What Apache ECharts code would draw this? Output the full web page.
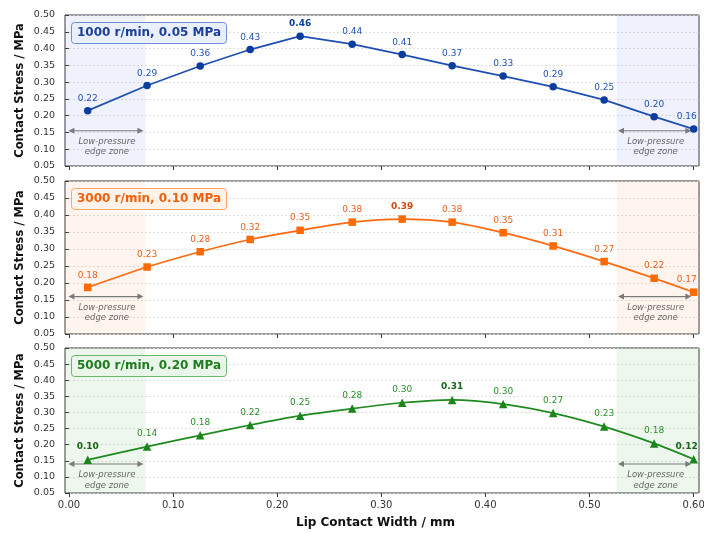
<!DOCTYPE html>
<html><head><meta charset="utf-8">
<script src="https://cdn.jsdelivr.net/npm/echarts@6/dist/echarts.min.js"></script>
<style>html,body{margin:0;padding:0;background:#fff}#c{width:704px;height:533px}</style>
</head><body><div id="c"></div>
<script>
// ---- data ----
const lipWidth = [0.018, 0.075, 0.126, 0.174, 0.222, 0.272, 0.320, 0.368, 0.417, 0.465, 0.514, 0.562, 0.600];
const stress1000 = [0.215, 0.290, 0.348, 0.397, 0.437, 0.413, 0.382, 0.349, 0.318, 0.286, 0.247, 0.197, 0.160];
const labels1000 = [0.22, 0.29, 0.36, 0.43, 0.46, 0.44, 0.41, 0.37, 0.33, 0.29, 0.25, 0.20, 0.16];
const stress3000 = [0.187, 0.247, 0.292, 0.328, 0.355, 0.379, 0.388, 0.379, 0.348, 0.309, 0.263, 0.214, 0.173];
const labels3000 = [0.18, 0.23, 0.28, 0.32, 0.35, 0.38, 0.39, 0.38, 0.35, 0.31, 0.27, 0.22, 0.17];
const stress5000 = [0.153, 0.194, 0.229, 0.261, 0.290, 0.312, 0.330, 0.339, 0.326, 0.298, 0.256, 0.204, 0.155];
const labels5000 = [0.10, 0.14, 0.18, 0.22, 0.25, 0.28, 0.30, 0.31, 0.30, 0.27, 0.23, 0.18, 0.12];
const panelTitles = ['1000 r/min, 0.05 MPa', '3000 r/min, 0.10 MPa', '5000 r/min, 0.20 MPa'];
const xTicks = [0, 0.1, 0.2, 0.3, 0.4, 0.5, 0.6];
const zoneLeftEnd = 0.0736, zoneRightStart = 0.526;

// ---- styling ----
const FONT = 'DejaVu Sans';
const panels = [
  {vals: stress1000, labs: labels1000, bold: [4], sym: 'circle', size: 7.5, smooth: false,
   line: '#1f4fb2', mark: '#0c3d9f', lab: '#2350b5', boldLab: '#0c3d9f', title: '#1a3f9e',
   tfill: '#eaf0fb', tborder: '#6d8fd6', zone: 'rgba(70,110,220,0.085)', arrowY: 0.155},
  {vals: stress3000, labs: labels3000, bold: [6], sym: 'rect', size: 7.5, smooth: 0.25,
   line: '#ff6a10', mark: '#ff6a00', lab: '#e8601c', boldLab: '#d9480f', title: '#f0600c',
   tfill: '#fff2e8', tborder: '#ffa46a', zone: 'rgba(255,130,60,0.085)', arrowY: 0.16},
  {vals: stress5000, labs: labels5000, bold: [0, 7, 12], sym: 'triangle', size: 8.5, smooth: 0.25,
   line: '#1f8a1f', mark: '#1a861a', lab: '#2b8f2b', boldLab: '#17641a', title: '#1e7d1e',
   tfill: '#ebf6eb', tborder: '#6cb56c', zone: 'rgba(60,160,60,0.085)', arrowY: 0.14}
];
const gridPos = [{top: 15, height: 151}, {top: 181, height: 153}, {top: 348, height: 145}];
const XMIN = -0.00384, XMAX = 0.6051;

const grid = [], xAxis = [], yAxis = [], series = [], title = [];
panels.forEach((p, i) => {
  grid.push({left: 65, right: 5, top: gridPos[i].top, height: gridPos[i].height,
    outerBoundsMode: 'none', containLabel: false,
    show: true, borderColor: '#3a3a3a', borderWidth: 1, backgroundColor: 'transparent'});
  xAxis.push({gridIndex: i, type: 'value', min: XMIN, max: XMAX,
    axisLine: {show: false},
    axisTick: {show: true, customValues: xTicks, length: 4, lineStyle: {color: '#3a3a3a'}},
    axisLabel: {show: i === 2, customValues: xTicks, formatter: v => v.toFixed(2),
      fontFamily: FONT, fontSize: 10, color: '#333', margin: 7},
    splitLine: {show: false},
    name: i === 2 ? 'Lip Contact Width / mm' : '', nameLocation: 'middle', nameGap: 24,
    nameMoveOverlap: false,
    nameTextStyle: {fontFamily: FONT, fontWeight: 'bold', fontSize: 12, color: '#111', padding: [0, 13, 0, 0]}});
  yAxis.push({gridIndex: i, type: 'value', min: 0.05, max: 0.5, interval: 0.05,
    axisLine: {show: false},
    axisTick: {show: true, length: 4, lineStyle: {color: '#3a3a3a'}},
    axisLabel: {formatter: v => v.toFixed(2), fontFamily: FONT, fontSize: 9.5, color: '#333', margin: 10},
    splitLine: {show: true, lineStyle: {type: [2, 2], color: '#d9d9d9', width: 0.8}},
    name: 'Contact Stress / MPa', nameLocation: 'middle', nameGap: 39, nameMoveOverlap: false,
    nameTextStyle: {fontFamily: FONT, fontWeight: 'bold', fontSize: 11.5, color: '#111'}});
  title.push({text: panelTitles[i], left: 71, top: gridPos[i].top + 7,
    backgroundColor: p.tfill, borderColor: p.tborder, borderWidth: 1, borderRadius: 3,
    padding: [4, 6, 4, 6],
    textStyle: {fontFamily: FONT, fontWeight: 'bold', fontSize: 12, color: p.title, lineHeight: 14}});

  // annotations: zones, arrows, text
  series.push({type: 'custom', xAxisIndex: i, yAxisIndex: i, silent: true, clip: false, z: 1,
    data: [[0.3, 0.3]],
    renderItem: (params, api) => {
      const ch = [];
      const tl = api.coord([XMIN, 0.5]), br = api.coord([XMAX, 0.05]);
      const l1 = api.coord([zoneLeftEnd, 0.05]), r0 = api.coord([zoneRightStart, 0.05]);
      ch.push({type: 'rect', shape: {x: tl[0], y: tl[1], width: l1[0] - tl[0], height: br[1] - tl[1]},
        style: {fill: p.zone}});
      ch.push({type: 'rect', shape: {x: r0[0], y: tl[1], width: br[0] - r0[0], height: br[1] - tl[1]},
        style: {fill: p.zone}});
      const arrows = [[-0.0006, 0.0715], [0.5273, 0.5978]];
      arrows.forEach(a => {
        const s = api.coord([a[0], p.arrowY]), e = api.coord([a[1], p.arrowY]);
        const y = s[1], h = 6, w = 3;
        ch.push({type: 'line', shape: {x1: s[0] + 4, y1: y, x2: e[0] - 4, y2: y},
          style: {stroke: '#7a7a7a', lineWidth: 1.2}});
        ch.push({type: 'polygon', shape: {points: [[s[0], y], [s[0] + h, y - w], [s[0] + h, y + w]]},
          style: {fill: '#7a7a7a'}});
        ch.push({type: 'polygon', shape: {points: [[e[0], y], [e[0] - h, y - w], [e[0] - h, y + w]]},
          style: {fill: '#7a7a7a'}});
        const cx = (s[0] + e[0]) / 2 + 1;
        ['Low-pressure', 'edge zone'].forEach((t, k) => {
          ch.push({type: 'text', style: {text: t, x: cx, y: y + 11 + k * 10.5, align: 'center',
            verticalAlign: 'middle', fontFamily: FONT, fontStyle: 'italic', fontSize: 8.5, fill: '#666'}});
        });
      });
      return {type: 'group', children: ch};
    }});

  series.push({type: 'line', xAxisIndex: i, yAxisIndex: i, z: 3,
    symbol: p.sym, symbolSize: p.size, smooth: p.smooth,
    lineStyle: {color: p.line, width: 1.7},
    itemStyle: {color: p.mark},
    label: {show: true, position: 'top', distance: 4, fontFamily: FONT, fontSize: 9, color: p.lab},
    data: lipWidth.map((x, k) => {
      const isBold = p.bold.indexOf(k) >= 0;
      return {value: [x, p.vals[k]], label: {formatter: p.labs[k].toFixed(2),
        fontWeight: isBold ? 'bold' : 'normal', color: isBold ? p.boldLab : p.lab,
        offset: k === lipWidth.length - 1 ? [-7, 0] : [0, 0]}};
    })});
});

const chart = echarts.init(document.getElementById('c'), null, {renderer: 'canvas'});
chart.setOption({animation: false, backgroundColor: '#fff', title, grid, xAxis, yAxis, series});
</script></body></html>
